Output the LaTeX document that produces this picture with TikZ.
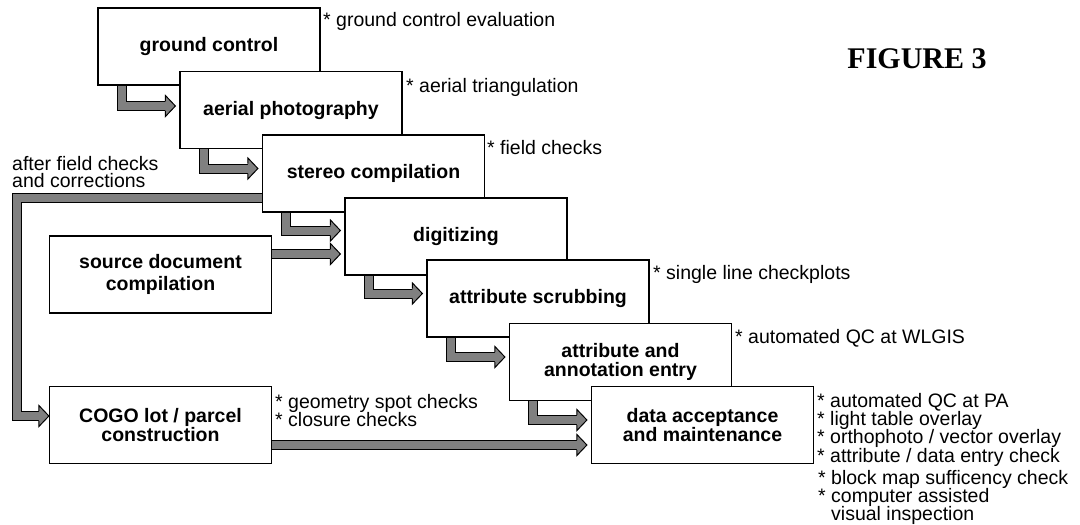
\documentclass[tikz,border=0pt]{standalone}
\usepackage{fontspec}
\setmainfont{Liberation Sans}
\newfontfamily\figfont{Liberation Serif}
\usetikzlibrary{calc}
\pgfdeclarelayer{bg}
\pgfsetlayers{bg,main}
\definecolor{shaft}{HTML}{808080}
\tikzset{
  box/.style={draw=black, line width=1.2pt, fill=white, minimum width=222pt, minimum height=77pt, inner sep=0pt, align=center, font=\fontsize{19.5}{17}\selectfont\bfseries},
  note/.style={anchor=base west, inner sep=0pt, font=\fontsize{19.5}{17}\selectfont},
  shaftline/.style={draw=black, line width=1pt, double=shaft, double distance=8pt, line join=miter},
  headline/.style={draw=black, line width=1pt, line join=miter},
}
\newcommand\ahead[1]{%
  \fill[shaft] ($(#1)+(-10,-5)$) -- ($(#1)+(-10,-10.5)$) -- (#1) -- ($(#1)+(-10,10.5)$) -- ($(#1)+(-10,5)$) -- cycle;
  \draw[headline] ($(#1)+(-10,-5)$) -- ($(#1)+(-10,-10.5)$) -- (#1) -- ($(#1)+(-10,10.5)$) -- ($(#1)+(-10,5)$);
}
\newcommand\elbow[2]{%
  \draw[shaftline] (#1) |- ($(#2)+(-9,0)$);
  \ahead{#2}
}
\begin{document}
\begin{tikzpicture}[x=1pt, y=-1pt]
\useasboundingbox (0,0) rectangle (1080,525);
% boxes
\node[box] (ground) at (209,46.5) {ground control};
\node[box] (aerial) at (291,110) {aerial photography};
\node[box] (stereo) at (373.5,173.5) {stereo compilation};
\node[box] (digit)  at (456,236.5) {digitizing};
\node[box] (scrub)  at (538,298.5) {attribute scrubbing};
\node[box, font=\fontsize{19.5}{19}\selectfont\bfseries] (entry)  at (620.5,362) {attribute and\\annotation entry};
\node[box] (data)   at (702.5,425) {data acceptance\\and maintenance};
\node[box, font=\fontsize{19.5}{22}\selectfont\bfseries] (source) at (160.5,274.5) {source document\\compilation};
\node[box] (cogo)   at (160.5,425) {COGO lot / parcel\\construction};
% arrows
\begin{pgfonlayer}{bg}
\coordinate (s1) at ($(ground.south west)+(24.5,-2)$);
\coordinate (t1) at ($(aerial.west)+(-4,-4)$);
\elbow{s1}{t1}
\coordinate (s2) at ($(aerial.south west)+(24.5,-2)$);
\coordinate (t2) at ($(stereo.west)+(-4,-5)$);
\elbow{s2}{t2}
\coordinate (s3) at ($(stereo.south west)+(24.5,-2)$);
\coordinate (t3) at ($(digit.west)+(-4,-6)$);
\elbow{s3}{t3}
\coordinate (s4) at ($(digit.south west)+(24.5,-2)$);
\coordinate (t4) at ($(scrub.west)+(-4,-5)$);
\elbow{s4}{t4}
\coordinate (s5) at ($(scrub.south west)+(24.5,-2)$);
\coordinate (t5) at ($(entry.west)+(-4,-5)$);
\elbow{s5}{t5}
\coordinate (s6) at ($(entry.south west)+(24.5,-2)$);
\coordinate (t6) at ($(data.west)+(-4,-5)$);
\elbow{s6}{t6}
% straight arrows
\coordinate (t8) at ($(digit.west)+(-4,17.5)$);
\coordinate (s8) at (source.east |- t8);
\draw[shaftline] (s8) -- ($(t8)+(-9,0)$);
\ahead{t8}
\coordinate (t7) at ($(data.west)+(-4,20)$);
\coordinate (s7) at (cogo.east |- t7);
\draw[shaftline] (s7) -- ($(t7)+(-9,0)$);
\ahead{t7}
% feedback arrow
\coordinate (s9) at ($(stereo.west)+(2,24.5)$);
\coordinate (t9) at ($(cogo.west)+(0,-9)$);
\coordinate (c9) at ($(cogo.west)+(-32,0)$);
\draw[shaftline] (s9) -- (c9 |- s9) |- ($(t9)+(-9,0)$);
\ahead{t9}
\end{pgfonlayer}
% notes
\node[note] at (323,26) {* ground control evaluation};
\node[note] at (406,92) {* aerial triangulation};
\node[note] at (487,154) {* field checks};
\node[note] at (653,279) {* single line checkplots};
\node[note] at (735,343) {* automated QC at WLGIS};
\node[note] at (817,407) {* automated QC at PA};
\node[note] at (817,425) {* light table overlay};
\node[note] at (817,443) {* orthophoto / vector overlay};
\node[note] at (817,462) {* attribute / data entry check};
\node[note] at (818,484) {* block map sufficency check};
\node[note] at (818,502) {* computer assisted};
\node[note] at (818,520) {\hphantom{*\ }visual inspection};
\node[note] at (275,408) {* geometry spot checks};
\node[note] at (275,426) {* closure checks};
\node[note] at (12,170) {after field checks};
\node[note] at (12,187) {and corrections};
\node[anchor=base, inner sep=0pt, font=\figfont\fontsize{30}{30}\selectfont\bfseries] at (917,68) {FIGURE 3};
\end{tikzpicture}
\end{document}
